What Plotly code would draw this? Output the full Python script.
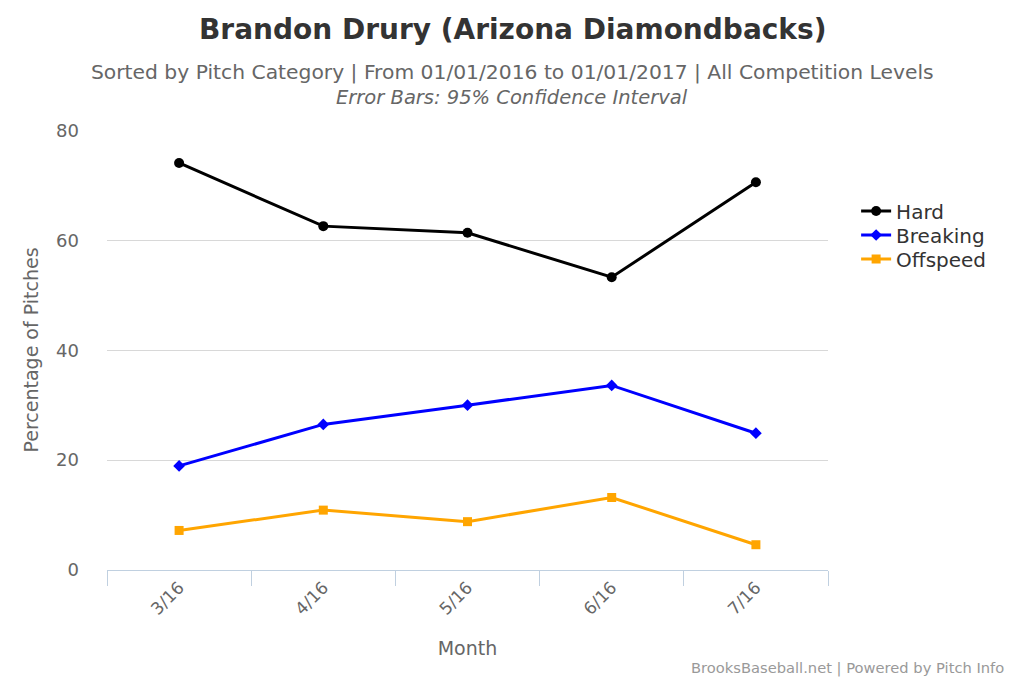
import plotly.graph_objects as go

months = ["3/16", "4/16", "5/16", "6/16", "7/16"]
hard = [74.1, 62.6, 61.4, 53.3, 70.6]
breaking = [18.95, 26.5, 30.0, 33.6, 24.9]
offspeed = [7.2, 10.9, 8.8, 13.2, 4.6]

y_ticks = [0, 20, 40, 60, 80]

FONT = "DejaVu Sans"

fig = go.Figure()
fig.add_trace(go.Scatter(x=months, y=hard, name="Hard", mode="lines+markers",
                         line=dict(color="black", width=3), legend="legend",
                         marker=dict(symbol="circle", size=10, color="black")))
fig.add_trace(go.Scatter(x=months, y=breaking, name="Breaking", mode="lines+markers",
                         line=dict(color="#0000ff", width=3), legend="legend2",
                         marker=dict(symbol="diamond", size=9, color="#0000ff")))
fig.add_trace(go.Scatter(x=months, y=offspeed, name="Offspeed", mode="lines+markers",
                         line=dict(color="#ffa500", width=3), legend="legend3",
                         marker=dict(symbol="square", size=9, color="#ffa500")))


def leg(ypix):
    return dict(x=1.039, y=(570 - ypix) / 440, xanchor="left", yanchor="middle",
                font=dict(family=FONT, size=20, color="#333333"),
                itemwidth=30, bgcolor="rgba(0,0,0,0)")


# page body adds an 8px offset; margins compensate so plot sits at 107..828 x 130..570
fig.update_layout(
    width=1024, height=683,
    margin=dict(l=99, r=204, t=122, b=121),
    paper_bgcolor="white", plot_bgcolor="white",
    showlegend=True,
    legend=leg(211), legend2=leg(235), legend3=leg(259),
    xaxis=dict(type="category", range=[-0.5, 4.5], tickson="boundaries",
               ticks="outside", ticklen=15, tickcolor="#C0D0E0", tickwidth=1,
               showline=True, linecolor="#C0D0E0", linewidth=1,
               showgrid=False, tickangle=-45,
               tickfont=dict(family=FONT, size=17, color="#666666"),
               title=dict(text="Month", standoff=23,
                          font=dict(family=FONT, size=19, color="#666666"))),
    yaxis=dict(range=[0, 80.1], tickvals=y_ticks, showgrid=True, gridcolor="#D8D8D8",
               gridwidth=1, zeroline=False, showline=False, ticks="",
               ticklabelstandoff=27,
               tickfont=dict(family=FONT, size=18, color="#666666"),
               title=dict(text="Percentage of Pitches", standoff=12,
                          font=dict(family=FONT, size=19, color="#666666"))),
)

cx = (512 - 107) / 721
fig.add_annotation(text="<b>Brandon Drury (Arizona Diamondbacks)</b>",
                   xref="paper", yref="paper", x=cx, y=(570 - 30) / 440,
                   xanchor="center", yanchor="middle", showarrow=False,
                   font=dict(family=FONT, size=28, color="#333333"))
fig.add_annotation(text="Sorted by Pitch Category | From 01/01/2016 to 01/01/2017 | All Competition Levels",
                   xref="paper", yref="paper", x=cx, y=(570 - 72) / 440,
                   xanchor="center", yanchor="middle", showarrow=False,
                   font=dict(family=FONT, size=20.3, color="#666666"))
fig.add_annotation(text="<i>Error Bars: 95% Confidence Interval</i>",
                   xref="paper", yref="paper", x=cx, y=(570 - 97) / 440,
                   xanchor="center", yanchor="middle", showarrow=False,
                   font=dict(family=FONT, size=19.5, color="#666666"))
fig.add_annotation(text="BrooksBaseball.net | Powered by Pitch Info",
                   xref="paper", yref="paper", x=(1006 - 107) / 721, y=(570 - 668) / 440,
                   xanchor="right", yanchor="middle", showarrow=False,
                   font=dict(family=FONT, size=14.7, color="#999999"))

fig.write_html("out.html")
